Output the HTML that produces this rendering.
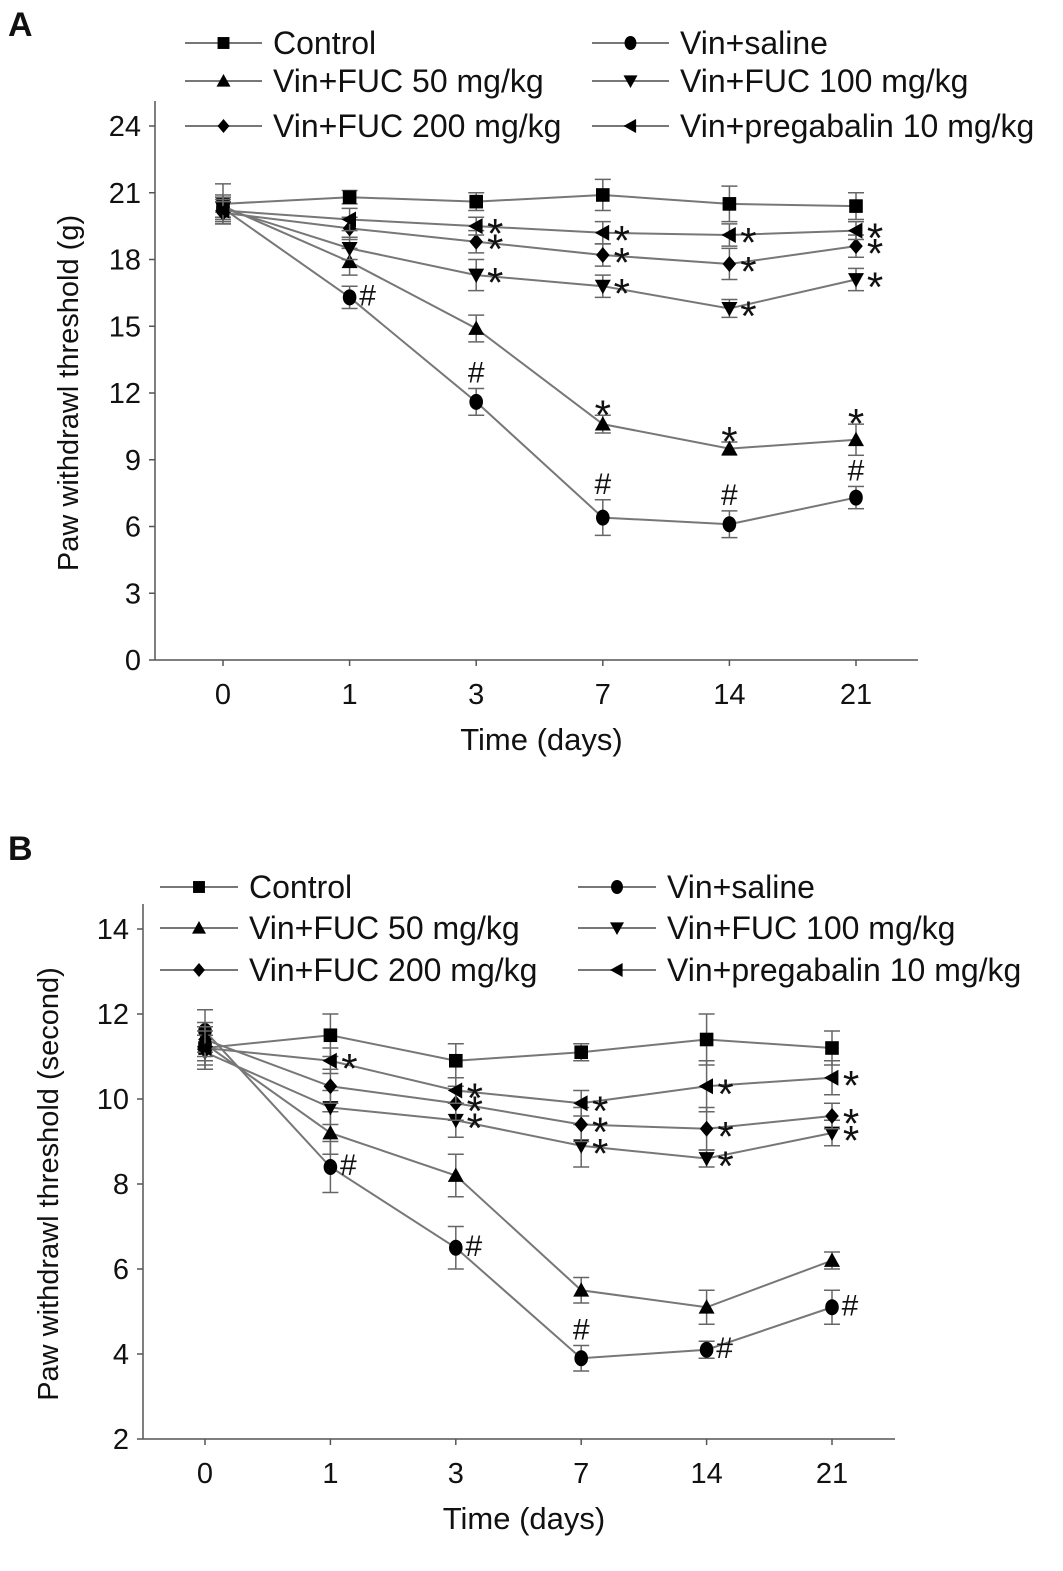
<!DOCTYPE html>
<html><head><meta charset="utf-8"><style>
body{margin:0;background:#fff}
svg{display:block}
text{font-family:"Liberation Sans",sans-serif;fill:#111}
</style></head><body>
<svg id="s" width="1063" height="1571" viewBox="0 0 1063 1571"></svg>
<script>
const categories=["0","1","3","7","14","21"];
const seriesNames=["Control","Vin+saline","Vin+FUC 50 mg/kg","Vin+FUC 100 mg/kg","Vin+FUC 200 mg/kg","Vin+pregabalin 10 mg/kg"];
const markers=["square","circle","up","down","diamond","left"];
const aControl=[20.5,20.8,20.6,20.9,20.5,20.4];
const aSaline=[20.3,16.3,11.6,6.4,6.1,7.3];
const aFuc50=[20.4,17.9,14.9,10.6,9.5,9.9];
const aFuc100=[20.3,18.5,17.3,16.8,15.8,17.1];
const aFuc200=[20.1,19.4,18.8,18.2,17.8,18.6];
const aPreg=[20.2,19.8,19.5,19.2,19.1,19.3];
const aErr=[[0.9,0.3,0.4,0.7,0.8,0.6],[0.5,0.5,0.6,0.8,0.6,0.5],[0.5,0.6,0.6,0.4,0.3,0.7],[0.5,0.5,0.7,0.5,0.4,0.5],[0.5,0.5,0.5,0.5,0.7,0.5],[0.5,0.5,0.4,0.5,0.5,0.4]];
const aMarks=[["","","","","",""],["","#","#","#","#","#"],["","","","*","*","*"],["","","*","*","*","*"],["","","*","*","*","*"],["","","*","*","*","*"]];
const bControl=[11.2,11.5,10.9,11.1,11.4,11.2];
const bSaline=[11.6,8.4,6.5,3.9,4.1,5.1];
const bFuc50=[11.3,9.2,8.2,5.5,5.1,6.2];
const bFuc100=[11.1,9.8,9.5,8.9,8.6,9.2];
const bFuc200=[11.4,10.3,9.9,9.4,9.3,9.6];
const bPreg=[11.2,10.9,10.2,9.9,10.3,10.5];
const bErr=[[0.5,0.5,0.4,0.2,0.6,0.4],[0.5,0.6,0.5,0.3,0.2,0.4],[0.4,0.5,0.5,0.3,0.4,0.2],[0.4,0.4,0.4,0.5,0.2,0.3],[0.4,0.4,0.4,0.4,0.5,0.3],[0.4,0.3,0.3,0.3,0.6,0.4]];
const bMarks=[["","","","","",""],["","#","#","#","#","#"],["","","","","",""],["","","*","*","*","*"],["","","*","*","*","*"],["","*","*","*","*","*"]];
const aTicks=[0,3,6,9,12,15,18,21,24];
const bTicks=[2,4,6,8,10,12,14];

const NS="http://www.w3.org/2000/svg";
const svg=document.getElementById('s');
function el(tag,attrs,parent,txt){const e=document.createElementNS(NS,tag);for(const k in attrs)e.setAttribute(k,attrs[k]);if(txt!==undefined)e.textContent=txt;(parent||svg).appendChild(e);return e;}
function marker(g,type,x,y,r){
  let e;
  if(type==="square")e=el('rect',{x:x-r*0.85,y:y-r*0.85,width:r*1.7,height:r*1.7,fill:'#000'},g);
  else if(type==="circle")e=el('ellipse',{cx:x,cy:y,rx:r*0.85,ry:r,fill:'#000'},g);
  else if(type==="up")e=el('polygon',{points:`${x},${y-r} ${x-r},${y+r*0.8} ${x+r},${y+r*0.8}`,fill:'#000'},g);
  else if(type==="down")e=el('polygon',{points:`${x},${y+r} ${x-r},${y-r*0.8} ${x+r},${y-r*0.8}`,fill:'#000'},g);
  else if(type==="diamond")e=el('polygon',{points:`${x},${y-r} ${x+r*0.85},${y} ${x},${y+r} ${x-r*0.85},${y}`,fill:'#000'},g);
  else e=el('polygon',{points:`${x-r},${y} ${x+r*0.8},${y-r} ${x+r*0.8},${y+r}`,fill:'#000'},g);
  return e;
}
function panel(o){
  const g=el('g',{});
  
  
  const ys=v=>o.y0-(v-o.vmin)/(o.vmax-o.vmin)*(o.y0-o.y1);
  const xs=i=>o.xc[0]+i*o.dx;
  const ax=el('g',{stroke:'#555','stroke-width':1.5},g);
  
  el('line',{x1:o.ax,y1:o.y0,x2:o.ax,y2:o.y1-25},ax);
  el('line',{x1:o.ax,y1:o.y0,x2:o.axEnd,y2:o.y0},ax);
  o.ticks.forEach(t=>{el('line',{x1:o.ax-6,y1:ys(t),x2:o.ax,y2:ys(t)},ax);
    const tt=el('text',{x:o.ax-14,y:ys(t)+10,'text-anchor':'end','font-size':29},g,String(t));
    });
  categories.forEach((c,i)=>{el('line',{x1:xs(i),y1:o.y0,x2:xs(i),y2:o.y0+6},ax);
    const tt=el('text',{x:xs(i),y:o.y0+44,'text-anchor':'middle','font-size':29},g,c);
    });
  let t=el('text',{x:(o.ax+o.axEnd)/2+5,y:o.y0+90,'text-anchor':'middle','font-size':31},g,'Time (days)');
  
  t=el('text',{x:0,y:0,'text-anchor':'middle','font-size':29,transform:`translate(${o.ytx},${(o.y0+o.y1)/2}) rotate(-90)`},g,o.ytitle);
  
  o.data.forEach((vals,s)=>{
    const sg=el('g',{},g);
    
    el('polyline',{points:vals.map((v,i)=>xs(i)+','+ys(v)).join(' '),fill:'none',stroke:'#777','stroke-width':2},sg);
    vals.forEach((v,i)=>{
      const e=o.err[s][i],x=xs(i);
      el('line',{x1:x,y1:ys(v+e),x2:x,y2:ys(v-e),stroke:'#666','stroke-width':1.5},sg);
      el('line',{x1:x-8,y1:ys(v+e),x2:x+8,y2:ys(v+e),stroke:'#666','stroke-width':1.5},sg);
      el('line',{x1:x-8,y1:ys(v-e),x2:x+8,y2:ys(v-e),stroke:'#666','stroke-width':1.5},sg);
      const m=marker(sg,markers[s],x,ys(v),8);
      
      const mk=o.marks[s][i];
      if(mk){
        const above=o.above(s,i);
        let mt;
        if(mk==="*"){
          mt=above?el('text',{x:x,y:ys(v+e)+14,'text-anchor':'middle','font-size':42,fill:'#666'},sg,mk)
                  :el('text',{x:x+19,y:ys(v)+22,'text-anchor':'middle','font-size':42,fill:'#666'},sg,mk);
        }else{
          mt=above?el('text',{x:x,y:ys(v+e)-6,'text-anchor':'middle','font-size':30,fill:'#555'},sg,mk)
                  :el('text',{x:x+18,y:ys(v)+8,'text-anchor':'middle','font-size':30,fill:'#555'},sg,mk);
        }
        
      }
    });
  });
  seriesNames.forEach((n,s)=>{
    const lg=el('g',{},g);
    
    const col=s%2,row=Math.floor(s/2);
    const lx=o.leg.x[col],ly=o.leg.y[row];
    el('line',{x1:lx,y1:ly,x2:lx+o.leg.w,y2:ly,stroke:'#777','stroke-width':2},lg);
    marker(lg,markers[s],lx+o.leg.w/2,ly,7);
    el('text',{x:lx+o.leg.w+11,y:ly+11,'font-size':32},lg,n);
  });
}
panel({name:'panel-a',vmin:0,vmax:24,y0:660,y1:126,ax:155,axEnd:918,xc:[223],dx:126.6,ticks:aTicks,
  data:[aControl,aSaline,aFuc50,aFuc100,aFuc200,aPreg],err:aErr,marks:aMarks,ytitle:'Paw withdrawl threshold (g)',ytx:78,
  above:(s,i)=>(s===1&&i>1)||s===2,leg:{x:[185,592],y:[43,81,126],w:77}});
panel({name:'panel-b',vmin:2,vmax:14,y0:1439,y1:929,ax:143,axEnd:895,xc:[205],dx:125.4,ticks:bTicks,
  data:[bControl,bSaline,bFuc50,bFuc100,bFuc200,bPreg],err:bErr,marks:bMarks,ytitle:'Paw withdrawl threshold (second)',ytx:58,
  above:(s,i)=>s===1&&i===3,leg:{x:[160,578],y:[887,928,970],w:78}});
let L=el('text',{x:8,y:36,'font-size':34,'font-weight':'bold','font-family':'Liberation Serif'},svg,'A');

L=el('text',{x:8,y:860,'font-size':34,'font-weight':'bold','font-family':'Liberation Serif'},svg,'B');

</script>
</body></html>
